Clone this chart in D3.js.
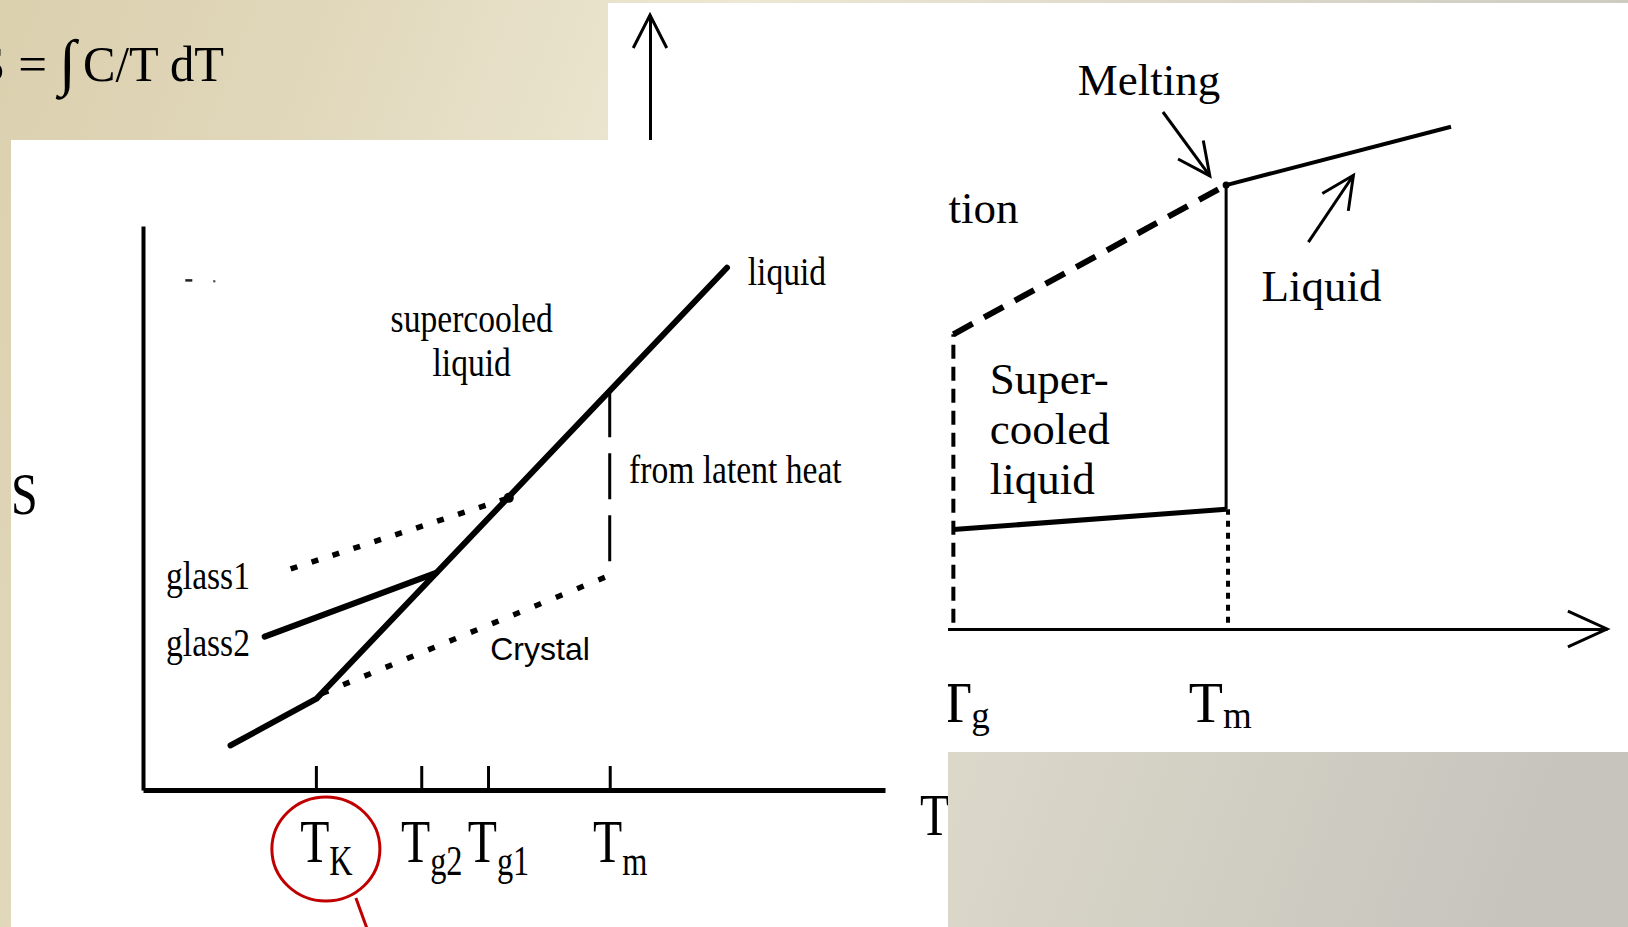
<!DOCTYPE html>
<html><head><meta charset="utf-8">
<script src="https://cdn.jsdelivr.net/npm/d3@7"></script>
<style>html,body{margin:0;padding:0;overflow:hidden;background:#e3dbc3}svg{display:block}</style>
</head><body><svg id="c" width="1628" height="927"></svg>
<script>
// ===== DATA (abstract diagram units 0-100) =====
// Left diagram: entropy S versus temperature T
const leftTicks = [23.3, 37.5, 46.5, 62.9];
const leftTickMain = ["T", "T", "T", "T"];
const leftTickSub = ["K", "g2", "g1", "m"];
const liquidLine = [[11.8, 7.9], [23.4, 16.2], [78.7, 92.6]];
const glass2Line = [[16.4, 27.2], [39.5, 38.5]];
const glass1Line = [[19.9, 39.2], [49.3, 51.8]];
const crystalLine = [[24.1, 17.1], [62.6, 37.9]];
const latentHeatLine = [[62.9, 70.7], [62.9, 37.9]];
const strayMarks = [[5.7, 90.4], [9.6, 90.2]];
const leftLabelText = ["liquid", "supercooled", "liquid", "from latent heat", "glass1", "glass2"];
const leftLabelT = [81.5, 44.3, 44.3, 65.5, 3.1, 3.1];
const leftLabelS = [89.5, 81.2, 73.4, 54.4, 35.6, 23.8];
const crystalLabel = {text: "Crystal", T: 46.8, S: 23.0};

// Right diagram
const rightLiquid = [[60.2, 72.3], [83.7, 81.8]];
const rightSupercooled = [[31.7, 48.0], [60.2, 72.3]];
const rightCrystal = [[31.7, 16.2], [60.2, 19.5]];
const rightMeltJump = [[60.2, 19.5], [60.2, 72.3]];
const rightTgDrop = [[31.7, 1.0], [31.7, 48.0]];
const rightTmDrop = [[60.4, 1.0], [60.4, 19.5]];
const meltingArrow = [[53.6, 84.2], [58.5, 73.8]];
const liquidArrow = [[68.8, 63.0], [73.5, 73.9]];
const rightLabelText = ["Melting", "tion", "Liquid", "Super-", "cooled", "liquid"];
const rightLabelT = [44.7, 31.2, 63.9, 35.5, 35.5, 35.5];
const rightLabelS = [86.9, 66.1, 53.4, 38.2, 30.2, 22.0];
const rightTickMain = ["T", "T"];
const rightTickSub = ["g", "m"];
const rightTickT = [30.0, 56.3];

const formulaParts = ["ΔS =", "∫", "C/T dT"];

// ===== DRAWING =====
const svg = d3.select("#c");
const defs = svg.append("defs");
const serif = "'Liberation Serif','Times New Roman',serif";

const g0 = defs.append("linearGradient").attr("id", "bg")
  .attr("gradientUnits", "userSpaceOnUse")
  .attr("x1", 0).attr("y1", 0).attr("x2", 1628).attr("y2", 600);
[[0, "#dbd0ae"], [0.17, "#e0d7ba"], [0.4, "#ede7d3"], [1, "#c6c4bd"]]
  .forEach(([o, c]) => g0.append("stop").attr("offset", o).attr("stop-color", c));

defs.append("clipPath").attr("id", "clipR").append("rect")
  .attr("x", 608).attr("y", 3).attr("width", 1020).attr("height", 749);
defs.append("clipPath").attr("id", "clipL").append("rect")
  .attr("x", 11).attr("y", 140).attr("width", 937).attr("height", 787);

svg.append("rect").attr("width", 1628).attr("height", 927).attr("fill", "url(#bg)");

// formula in the slide background (its left part runs off the slide, as in the original)
const fm = svg.append("g").attr("font-family", serif).attr("font-size", 51).attr("fill", "#000");
fm.append("text").attr("x", 47).attr("y", 81).attr("text-anchor", "end").text(formulaParts[0]);
fm.append("text").attr("x", 59).attr("y", 83).attr("font-size", 62).attr("text-anchor", "start").text(formulaParts[1]);
fm.append("text").attr("x", 83).attr("y", 81).attr("text-anchor", "start")
  .attr("textLength", 141).attr("lengthAdjust", "spacingAndGlyphs").text(formulaParts[2]);

function arrowHead(p0, p1, len, ang) {
  const a = Math.atan2(p1[1] - p0[1], p1[0] - p0[0]);
  const w1 = [p1[0] - len * Math.cos(a - ang), p1[1] - len * Math.sin(a - ang)];
  const w2 = [p1[0] - len * Math.cos(a + ang), p1[1] - len * Math.sin(a + ang)];
  return `M${w1[0]},${w1[1]}L${p1[0]},${p1[1]}L${w2[0]},${w2[1]}`;
}

// ---------- right picture ----------
const xR = d3.scaleLinear().domain([0, 100]).range([650, 1607]);
const yR = d3.scaleLinear().domain([0, 100]).range([629, 15]);
const lineR = d3.line().x(d => xR(d[0])).y(d => yR(d[1]));
const R = svg.append("g").attr("clip-path", "url(#clipR)");
R.append("rect").attr("x", 608).attr("y", 3).attr("width", 1020).attr("height", 749).attr("fill", "#fff");

const axR = R.append("g").attr("transform", `translate(0,${yR(0)})`)
  .call(d3.axisBottom(xR).tickValues([]).tickSizeOuter(0));
axR.select(".domain").attr("stroke", "#000").attr("stroke-width", 3);
const ayR = R.append("g").attr("transform", `translate(${xR(0)},0)`)
  .call(d3.axisLeft(yR).tickValues([]).tickSizeOuter(0));
ayR.select(".domain").attr("stroke", "#000").attr("stroke-width", 3);
R.append("path").attr("d", arrowHead([xR(0), yR(0)], [xR(0), yR(100)], 37, 0.47))
  .attr("fill", "none").attr("stroke", "#000").attr("stroke-width", 3);
R.append("path").attr("d", arrowHead([xR(0), yR(0)], [xR(100), yR(0)], 43, 0.43))
  .attr("fill", "none").attr("stroke", "#000").attr("stroke-width", 3);

R.append("path").attr("d", lineR(rightSupercooled)).attr("fill", "none")
  .attr("stroke", "#000").attr("stroke-width", 6).attr("stroke-dasharray", "22,13");
R.append("path").attr("d", lineR(rightTgDrop)).attr("fill", "none")
  .attr("stroke", "#000").attr("stroke-width", 4).attr("stroke-dasharray", "14,8");
R.append("path").attr("d", lineR(rightTmDrop)).attr("fill", "none")
  .attr("stroke", "#000").attr("stroke-width", 4).attr("stroke-dasharray", "6,6");
R.append("path").attr("d", lineR(rightCrystal)).attr("fill", "none")
  .attr("stroke", "#000").attr("stroke-width", 5);
R.append("path").attr("d", lineR(rightMeltJump)).attr("fill", "none")
  .attr("stroke", "#000").attr("stroke-width", 3);
R.append("path").attr("d", lineR(rightLiquid)).attr("fill", "none")
  .attr("stroke", "#000").attr("stroke-width", 4);
R.append("circle").attr("cx", xR(rightLiquid[0][0])).attr("cy", yR(rightLiquid[0][1])).attr("r", 3.5).attr("fill", "#000");

[meltingArrow, liquidArrow].forEach(a => {
  const p0 = [xR(a[0][0]), yR(a[0][1])], p1 = [xR(a[1][0]), yR(a[1][1])];
  R.append("path").attr("d", lineR(a)).attr("stroke", "#000").attr("stroke-width", 3).attr("fill", "none");
  R.append("path").attr("d", arrowHead(p0, p1, 36, 0.45)).attr("stroke", "#000").attr("stroke-width", 3).attr("fill", "none");
});

rightLabelText.forEach((t, i) => {
  R.append("text").attr("x", xR(rightLabelT[i])).attr("y", yR(rightLabelS[i]))
    .attr("font-family", serif).attr("font-size", 45).attr("fill", "#000").text(t);
});
rightTickMain.forEach((t, i) => {
  const tx = R.append("text").attr("x", xR(rightTickT[i])).attr("y", yR(0) + 93)
    .attr("font-family", serif).attr("font-size", 56).attr("fill", "#000");
  tx.append("tspan").text(t);
  tx.append("tspan").attr("font-size", 37).attr("dy", 6).text(rightTickSub[i]);
});

// ---------- left picture ----------
const xL = d3.scaleLinear().domain([0, 100]).range([143, 885]);
const yL = d3.scaleLinear().domain([0, 100]).range([790, 226]);
const lineL = d3.line().x(d => xL(d[0])).y(d => yL(d[1]));
const L = svg.append("g").attr("clip-path", "url(#clipL)");
L.append("rect").attr("x", 11).attr("y", 140).attr("width", 937).attr("height", 787).attr("fill", "#fff");

const axL = L.append("g").attr("transform", `translate(0,${yL(0)})`)
  .call(d3.axisBottom(xL).tickValues(leftTicks).tickSize(-24).tickSizeOuter(0).tickFormat(""));
axL.select(".domain").attr("stroke", "#000").attr("stroke-width", 5);
axL.selectAll(".tick line").attr("stroke", "#000").attr("stroke-width", 3);
axL.selectAll(".tick").each(function (d, i) {
  const t = d3.select(this).append("text")
    .attr("transform", "translate(10,72) scale(0.77,1)")
    .attr("text-anchor", "middle").attr("font-family", serif)
    .attr("font-size", 62).attr("fill", "#000");
  t.append("tspan").text(leftTickMain[i]);
  t.append("tspan").attr("font-size", 42).attr("dy", 13).text(leftTickSub[i]);
});
const ayL = L.append("g").attr("transform", `translate(${xL(0)},0)`)
  .call(d3.axisLeft(yL).tickValues([]).tickSizeOuter(0));
ayL.select(".domain").attr("stroke", "#000").attr("stroke-width", 4);

L.append("text").attr("transform", `translate(11,514) scale(0.8,1)`)
  .attr("font-family", serif).attr("font-size", 60).attr("fill", "#000").text("S");
L.append("text").attr("transform", `translate(920,835) scale(0.8,1)`)
  .attr("font-family", serif).attr("font-size", 60).attr("fill", "#000").text("T");

L.append("path").attr("d", lineL(latentHeatLine)).attr("fill", "none")
  .attr("stroke", "#000").attr("stroke-width", 3).attr("stroke-dasharray", "46,16");
L.append("path").attr("d", lineL(glass1Line)).attr("fill", "none")
  .attr("stroke", "#000").attr("stroke-width", 5.5).attr("stroke-dasharray", "7,15");
L.append("circle").attr("cx", xL(glass1Line[1][0])).attr("cy", yL(glass1Line[1][1])).attr("r", 5).attr("fill", "#000");
L.append("path").attr("d", lineL(crystalLine)).attr("fill", "none")
  .attr("stroke", "#000").attr("stroke-width", 5.5).attr("stroke-dasharray", "7,16");
L.append("path").attr("d", lineL(glass2Line)).attr("fill", "none")
  .attr("stroke", "#000").attr("stroke-width", 6).attr("stroke-linecap", "round");
L.append("path").attr("d", lineL(liquidLine)).attr("fill", "none")
  .attr("stroke", "#000").attr("stroke-width", 6).attr("stroke-linecap", "round");
L.append("rect").attr("x", xL(strayMarks[0][0])).attr("y", yL(strayMarks[0][1]) - 1).attr("width", 7).attr("height", 2.5).attr("fill", "#222");
L.append("circle").attr("cx", xL(strayMarks[1][0])).attr("cy", yL(strayMarks[1][1])).attr("r", 1.2).attr("fill", "#555");

leftLabelText.forEach((t, i) => {
  L.append("text").attr("transform", `translate(${xL(leftLabelT[i])},${yL(leftLabelS[i])}) scale(0.84,1)`)
    .attr("text-anchor", (i === 1 || i === 2) ? "middle" : "start")
    .attr("font-family", serif).attr("font-size", 40).attr("fill", "#000").text(t);
});
L.append("text").attr("x", xL(crystalLabel.T)).attr("y", yL(crystalLabel.S))
  .attr("font-family", "'Liberation Sans',Arial,sans-serif").attr("font-size", 32)
  .attr("fill", "#000").text(crystalLabel.text);

// red highlight round T_K
const cx = xL(leftTicks[0]) + 10, cy = yL(0) + 59;
svg.append("ellipse").attr("cx", cx).attr("cy", cy).attr("rx", 54).attr("ry", 52)
  .attr("fill", "none").attr("stroke", "#c00000").attr("stroke-width", 3);
svg.append("line").attr("x1", cx + 30).attr("y1", cy + 49).attr("x2", cx + 42).attr("y2", cy + 82)
  .attr("stroke", "#c00000").attr("stroke-width", 3);
</script></body></html>
